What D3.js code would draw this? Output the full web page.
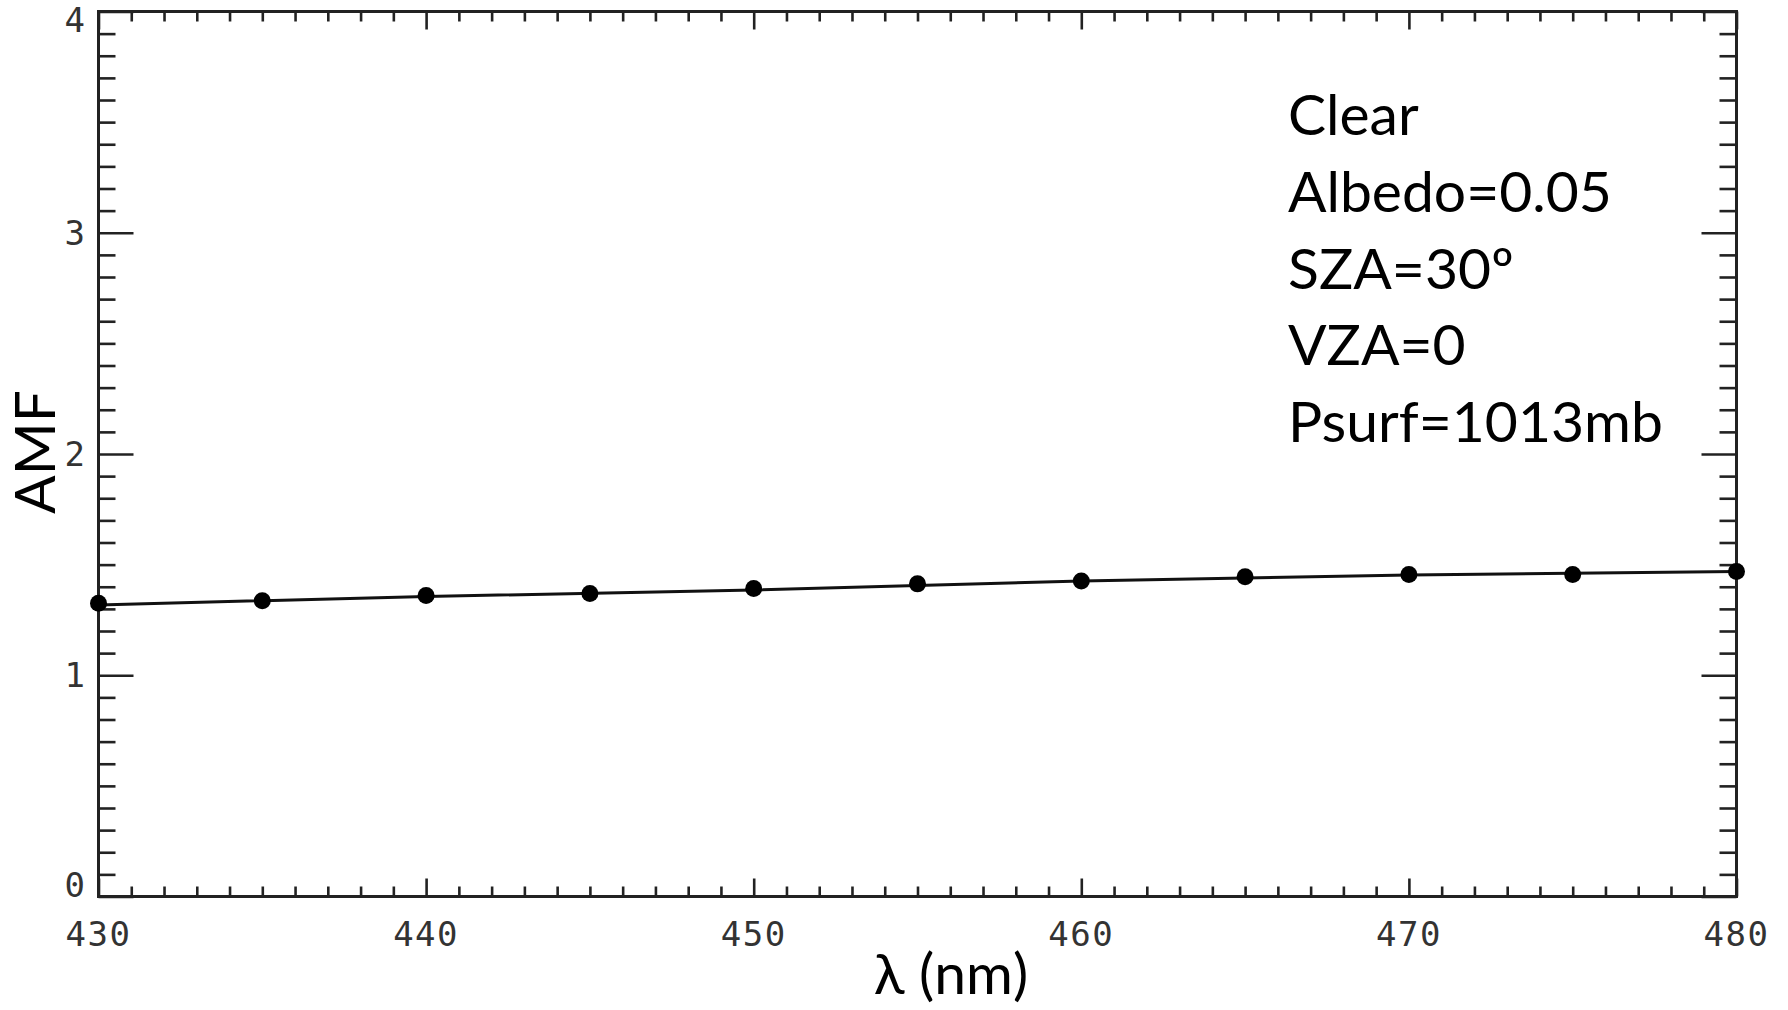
<!DOCTYPE html>
<html>
<head>
<meta charset="utf-8">
<script src="https://cdn.jsdelivr.net/npm/d3@7"></script>
<style>
	body { margin: 0; background: #fff; }
	svg { display: block; }
	.tick-label { font-family: "DejaVu Sans Mono", monospace; font-size: 34px; fill: #333; letter-spacing: 1.5px; }
	.title { font-family: Lato, "Open Sans", sans-serif; font-size: 57px; fill: #000; }
</style>
</head>
<body>
<svg></svg>
<script>
// wavelengths of the dots (nm) and their AMF values
const wavelengths = [430, 435, 440, 445, 450, 455, 460, 465, 470, 475, 480]
const amfPoints = [1.325, 1.337, 1.36, 1.369, 1.392, 1.413, 1.426, 1.445, 1.455, 1.455, 1.469]

const lineWavelengths = [430, 440, 450, 460, 470, 480]
const amfLine = [1.318, 1.356, 1.385, 1.426, 1.453, 1.469]

const xMajor = [430, 440, 450, 460, 470, 480]
const yMajor = [0, 1, 2, 3, 4]
const notes = ["Clear", "Albedo=0.05", "SZA=30º", "VZA=0", "Psurf=1013mb"]

const W = 1788, H = 1010
const x0 = 98.5, x1 = 1736.5, y0 = 896.5, y1 = 11.5

const svg = d3.select("svg").attr("width", W).attr("height", H)

const x = d3.scaleLinear().domain([430, 480]).range([x0, x1])
const y = d3.scaleLinear().domain([0, 4]).range([y0, y1])

const xMinor = d3.range(431, 480).filter((d) => d % 10 !== 0)
const yMinor = d3.range(1, 40).filter((d) => d % 10 !== 0).map((d) => d / 10)

// ticks on all four sides, pointing inward
function ticks(axis, vals, size, tr) {
	const g = svg
		.append("g")
		.attr("transform", tr)
		.call(axis.tickValues(vals).tickSize(size).tickFormat(""))
	g.select(".domain").remove()
	g.selectAll("line").attr("stroke", "#222").attr("stroke-width", 2.6)
}
ticks(d3.axisRight(y), yMajor, 35, `translate(${x0},0)`)
ticks(d3.axisRight(y), yMinor, 17, `translate(${x0},0)`)
ticks(d3.axisLeft(y), yMajor, 35, `translate(${x1},0)`)
ticks(d3.axisLeft(y), yMinor, 17, `translate(${x1},0)`)
ticks(d3.axisTop(x), xMajor, 18, `translate(0,${y0})`)
ticks(d3.axisTop(x), xMinor, 10, `translate(0,${y0})`)
ticks(d3.axisBottom(x), xMajor, 18, `translate(0,${y1})`)
ticks(d3.axisBottom(x), xMinor, 10, `translate(0,${y1})`)

// frame
svg
	.append("rect")
	.attr("x", x0)
	.attr("y", y1)
	.attr("width", x1 - x0)
	.attr("height", y0 - y1)
	.attr("fill", "none")
	.attr("stroke", "#222")
	.attr("stroke-width", 3)

// tick labels
svg
	.selectAll("text.ylab")
	.data(yMajor)
	.enter()
	.append("text")
	.attr("class", "tick-label ylab")
	.attr("x", x0 - 12)
	.attr("y", (d) => Math.min(Math.max(y(d), 20), 885))
	.attr("dy", "0.36em")
	.attr("text-anchor", "end")
	.text((d) => d)

svg
	.selectAll("text.xlab")
	.data(xMajor)
	.enter()
	.append("text")
	.attr("class", "tick-label xlab")
	.attr("x", (d) => x(d))
	.attr("y", 946)
	.attr("text-anchor", "middle")
	.text((d) => d)

// line
const lineGenerator = d3
	.line()
	.x((d) => x(d[0]))
	.y((d) => y(d[1]))

svg
	.append("path")
	.datum(d3.zip(lineWavelengths, amfLine))
	.attr("d", lineGenerator)
	.attr("fill", "none")
	.attr("stroke", "#111")
	.attr("stroke-width", 3)

// dots
svg
	.selectAll("circle.pt")
	.data(d3.zip(wavelengths, amfPoints))
	.enter()
	.append("circle")
	.attr("class", "pt")
	.attr("cx", (d) => x(d[0]))
	.attr("cy", (d) => y(d[1]))
	.attr("r", 8.5)
	.attr("fill", "#000")

// axis titles
svg
	.append("text")
	.attr("class", "title")
	.attr("x", 951)
	.attr("y", 994)
	.attr("text-anchor", "middle")
	.text("λ (nm)")

svg
	.append("text")
	.attr("class", "title")
	.attr("transform", "translate(55,452) rotate(-90)")
	.attr("text-anchor", "middle")
	.text("AMF")

// annotation block
svg
	.selectAll("text.note")
	.data(notes)
	.enter()
	.append("text")
	.attr("class", "title note")
	.attr("x", 1288)
	.attr("y", (d, i) => 135 + i * 76.8)
	.text((d) => d)
</script>
</body>
</html>
